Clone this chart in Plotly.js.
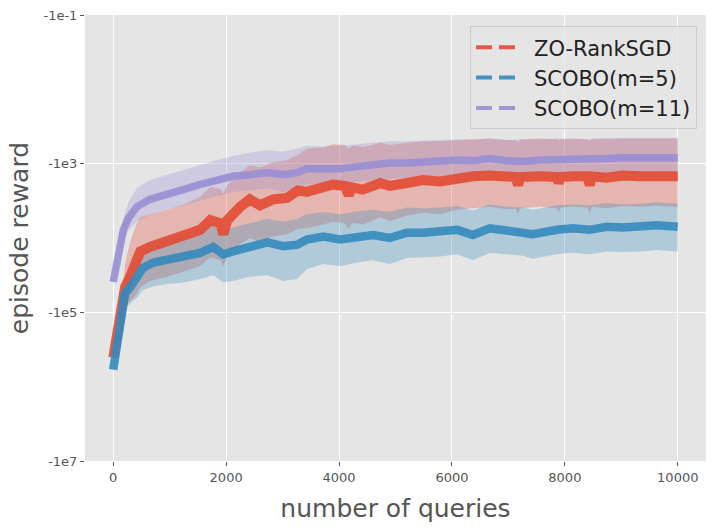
<!DOCTYPE html>
<html>
<head>
<meta charset="utf-8">
<script src="https://cdn.plot.ly/plotly-3.0.1.min.js"></script>
<style>
  html, body { margin: 0; padding: 0; background: #ffffff; }
  #chart { width: 715px; height: 531px; }
</style>
</head>
<body>
<div id="chart"></div>
<script>
// values are log10(|episode reward|)

// ZO-RankSGD
const zoQueries = [0, 40, 90, 160, 210, 300, 420, 480, 650, 960, 1240, 1540, 1720, 1840, 1900, 1950, 2020, 2250, 2420, 2600, 2830,
    3080, 3270, 3430, 3720, 3890, 4100, 4170, 4230, 4320, 4420, 4730, 4900, 5200, 5490, 5790, 6090, 6370, 6670, 6970, 7130, 7170, 7210,
    7560, 7860, 7890, 7930, 8140, 8400, 8440, 8480, 8740, 9030, 9330, 9630, 10000];
const zoMean = [5.61, 5.41, 5.19, 4.92, 4.66, 4.52, 4.33, 4.18, 4.12, 4.05, 3.98, 3.89, 3.76, 3.79, 3.80, 3.95, 3.76, 3.58, 3.48, 3.56, 3.48,
    3.46, 3.36, 3.38, 3.32, 3.28, 3.30, 3.42, 3.32, 3.33, 3.35, 3.26, 3.30, 3.26, 3.22, 3.24, 3.19, 3.17, 3.16, 3.18, 3.18, 3.29, 3.18,
    3.17, 3.18, 3.26, 3.18, 3.17, 3.17, 3.29, 3.17, 3.19, 3.16, 3.17, 3.16, 3.17];
const zoUpper = [5.56, 5.33, 5.07, 4.72, 4.35, 4.05, 3.80, 3.72, 3.68, 3.62, 3.55, 3.45, 3.31, 3.33, 3.34, 3.40, 3.29, 3.12, 3.02, 3.05, 2.98,
    2.95, 2.88, 2.80, 2.78, 2.74, 2.75, 2.80, 2.76, 2.76, 2.78, 2.72, 2.75, 2.72, 2.70, 2.70, 2.68, 2.67, 2.66, 2.68, 2.68, 2.72, 2.67,
    2.66, 2.67, 2.69, 2.67, 2.66, 2.67, 2.70, 2.66, 2.67, 2.66, 2.66, 2.65, 2.66];
const zoLower = [5.66, 5.50, 5.32, 5.12, 4.92, 4.85, 4.75, 4.66, 4.58, 4.52, 4.45, 4.38, 4.26, 4.28, 4.30, 4.38, 4.26, 4.08, 4.00, 4.06, 3.98,
    3.95, 3.88, 3.87, 3.82, 3.78, 3.80, 3.88, 3.80, 3.80, 3.82, 3.72, 3.77, 3.70, 3.66, 3.68, 3.62, 3.60, 3.58, 3.61, 3.61, 3.68, 3.60,
    3.58, 3.60, 3.65, 3.59, 3.58, 3.59, 3.67, 3.58, 3.60, 3.57, 3.58, 3.57, 3.58];

// SCOBO(m=5)
const m5Queries = [0, 40, 90, 160, 210, 300, 420, 530, 710, 960, 1240, 1540, 1770, 1950, 2120, 2420, 2730, 3010, 3260, 3430,
    3720, 4020, 4320, 4600, 4900, 5200, 5490, 5790, 6090, 6370, 6670, 6970, 7260, 7430, 7860, 8140, 8440, 8740, 9030, 9330,
    9630, 10000];
const m5Mean = [5.77, 5.54, 5.27, 5.01, 4.74, 4.66, 4.52, 4.40, 4.33, 4.29, 4.25, 4.20, 4.12, 4.22, 4.18, 4.12, 4.06, 4.11, 4.09, 4.02,
    3.98, 4.02, 3.98, 3.96, 4.00, 3.93, 3.93, 3.92, 3.89, 3.96, 3.87, 3.90, 3.92, 3.95, 3.89, 3.87, 3.89, 3.85, 3.86, 3.85,
    3.83, 3.85];
const m5Upper = [5.72, 5.46, 5.15, 4.85, 4.55, 4.45, 4.28, 4.14, 4.06, 4.00, 3.95, 3.90, 3.82, 3.90, 3.86, 3.80, 3.74, 3.78, 3.74, 3.68,
    3.65, 3.68, 3.64, 3.62, 3.65, 3.59, 3.60, 3.59, 3.57, 3.63, 3.55, 3.58, 3.59, 3.62, 3.56, 3.55, 3.56, 3.53, 3.55, 3.54,
    3.52, 3.54];
const m5Lower = [5.82, 5.64, 5.40, 5.18, 4.95, 4.88, 4.80, 4.70, 4.65, 4.62, 4.60, 4.55, 4.50, 4.60, 4.58, 4.52, 4.50, 4.58, 4.55, 4.42,
    4.35, 4.38, 4.33, 4.30, 4.35, 4.27, 4.26, 4.25, 4.22, 4.30, 4.20, 4.22, 4.24, 4.28, 4.22, 4.20, 4.22, 4.18, 4.19, 4.18,
    4.16, 4.18];

// SCOBO(m=11)
const m11Queries = [0, 70, 120, 180, 270, 420, 650, 960, 1240, 1540, 1840, 2120, 2420, 2730, 3010, 3260, 3430, 3720, 4020, 4320,
    4600, 4900, 5200, 5490, 5790, 6090, 6370, 6670, 6970, 7260, 7560, 7860, 8140, 8440, 8740, 9030, 9330, 9630, 10000];
const m11Mean = [4.59, 4.33, 4.09, 3.89, 3.73, 3.58, 3.48, 3.42, 3.35, 3.28, 3.22, 3.17, 3.15, 3.12, 3.15, 3.12, 3.07, 3.08, 3.07, 3.04,
    3.01, 2.99, 2.99, 2.97, 2.96, 2.95, 2.96, 2.93, 2.96, 2.97, 2.95, 2.95, 2.93, 2.95, 2.93, 2.92, 2.93, 2.92, 2.92];
const m11Upper = [4.55, 4.26, 3.98, 3.74, 3.52, 3.33, 3.22, 3.15, 3.08, 3.02, 2.95, 2.90, 2.85, 2.82, 2.84, 2.80, 2.76, 2.77, 2.76, 2.74,
    2.72, 2.70, 2.70, 2.69, 2.68, 2.67, 2.68, 2.66, 2.68, 2.68, 2.67, 2.66, 2.66, 2.67, 2.65, 2.65, 2.66, 2.65, 2.65];
const m11Lower = [4.63, 4.40, 4.18, 4.02, 3.90, 3.78, 3.68, 3.62, 3.56, 3.50, 3.44, 3.38, 3.36, 3.33, 3.38, 3.32, 3.28, 3.28, 3.29, 3.24,
    3.22, 3.20, 3.19, 3.18, 3.17, 3.16, 3.17, 3.14, 3.17, 3.18, 3.16, 3.16, 3.14, 3.16, 3.14, 3.13, 3.14, 3.13, 3.13];

const xTicks = [0, 2000, 4000, 6000, 8000, 10000];
const xTickLabels = ['0', '2000', '4000', '6000', '8000', '10000'];
const yTicks = [1, 3, 5, 7];
const yTickLabels = ['-1e-1', '-1e3', '-1e5', '-1e7'];

const series = [
    { name: 'ZO-RankSGD', x: zoQueries, mean: zoMean, upper: zoUpper, lower: zoLower,
      color: 'rgba(226, 74, 51, 0.9)', fill: 'rgba(226, 74, 51, 0.3)', width: 10 },
    { name: 'SCOBO(m=5)', x: m5Queries, mean: m5Mean, upper: m5Upper, lower: m5Lower,
      color: 'rgba(52, 138, 189, 0.9)', fill: 'rgba(52, 138, 189, 0.3)', width: 8.5 },
    { name: 'SCOBO(m=11)', x: m11Queries, mean: m11Mean, upper: m11Upper, lower: m11Lower,
      color: 'rgba(152, 142, 213, 0.9)', fill: 'rgba(152, 142, 213, 0.3)', width: 7.5 }
];

const traces = [];

// shaded bands first
for (const s of series) {
    traces.push({
        x: s.x, y: s.upper, mode: 'lines', line: { width: 0 },
        showlegend: false, hoverinfo: 'skip', legendgroup: s.name
    });
    traces.push({
        x: s.x, y: s.lower, mode: 'lines', line: { width: 0 },
        fill: 'tonexty', fillcolor: s.fill,
        showlegend: false, hoverinfo: 'skip', legendgroup: s.name
    });
}

// mean curves
for (const s of series) {
    traces.push({
        x: s.x, y: s.mean, mode: 'lines', name: s.name,
        line: { color: s.color, width: s.width },
        showlegend: false, legendgroup: s.name
    });
}

// legend entries (two dashes, then empty space before the label)
for (const s of series) {
    traces.push({
        x: [null], y: [null], mode: 'lines', name: s.name, legendgroup: s.name,
        line: { color: s.color, width: 4, dash: '16px,7px,16px,60px' }
    });
}

const tickFont = { family: 'DejaVu Sans, sans-serif', size: 13, color: '#555555' };
const titleFont = { family: 'DejaVu Sans, sans-serif', size: 25, color: '#555555' };

const layout = {
    width: 715,
    height: 531,
    margin: { l: 85, r: 9, t: 15, b: 70 },
    paper_bgcolor: '#ffffff',
    plot_bgcolor: '#E5E5E5',
    font: { family: 'DejaVu Sans, sans-serif' },
    xaxis: {
        range: [-500, 10500],
        tickvals: xTicks,
        ticktext: xTickLabels,
        ticks: 'outside', ticklen: 4, tickcolor: '#555555',
        tickfont: tickFont,
        gridcolor: '#ffffff', gridwidth: 1,
        zeroline: false, showline: false,
        title: { text: 'number of queries', font: titleFont, standoff: 15 }
    },
    yaxis: {
        range: [7, 1],
        tickvals: yTicks,
        ticktext: yTickLabels,
        ticks: 'outside', ticklen: 4, tickcolor: '#555555',
        tickfont: tickFont,
        gridcolor: '#ffffff', gridwidth: 1,
        zeroline: false, showline: false,
        title: { text: 'episode reward', font: titleFont, standoff: 7 }
    },
    legend: {
        x: 0.9855, y: 0.975, xanchor: 'right', yanchor: 'top',
        traceorder: 'grouped', tracegroupgap: 0,
        bgcolor: 'rgba(229, 229, 229, 0.8)',
        bordercolor: '#cccccc', borderwidth: 1,
        font: { family: 'DejaVu Sans, sans-serif', size: 21, color: '#222222' },
        itemwidth: 53
    },
    showlegend: true
};

Plotly.newPlot('chart', traces, layout, { displayModeBar: false, staticPlot: true });
</script>
</body>
</html>
